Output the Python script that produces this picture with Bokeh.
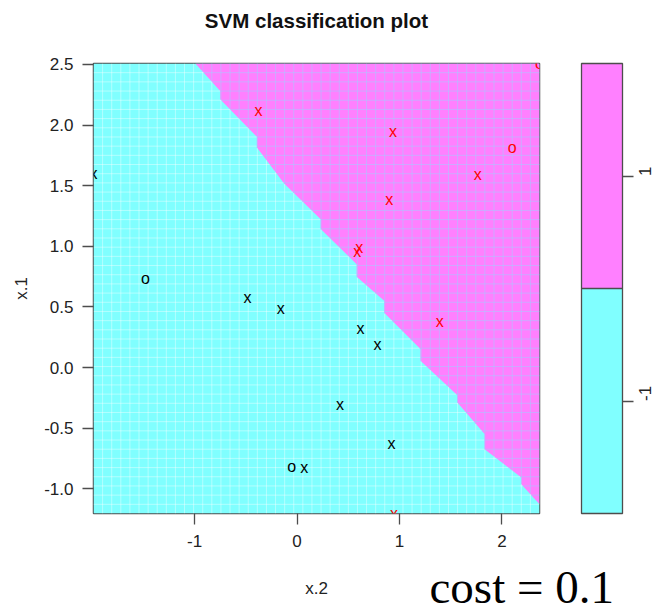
import numpy as np
from math import pi

from bokeh.plotting import figure
from bokeh.models import (Range1d, FixedTicker, PrintfTickFormatter, ColorBar,
                          LinearColorMapper, LinearAxis, Title, ColumnDataSource)
from bokeh.core.properties import value
from bokeh.embed import file_html
from bokeh.resources import INLINE

# class levels of the fitted SVM and their region colours (cm.colors(2))
class_levels = ["-1", "1"]
region_colors = ["#80FFFF", "#FF80FF"]
key_ticks = [1.5, 2.5]
key_split = [2.0]

# range of the two features (x.2 across, x.1 up)
x2_lim = (-1.987, 2.367)
x1_lim = (-1.204, 2.508)
x2_ticks = [-1, 0, 1, 2]
x1_ticks = [-1.0, -0.5, 0.0, 0.5, 1.0, 1.5, 2.0, 2.5]

# training observations
pt_x2 = [-1.987, -0.484, -0.159, 0.620, 0.786, 0.419, 0.922, 0.071, -1.479, -0.052,
         -0.377, 0.938, 1.765, 0.899, 0.607, 0.587, 1.392, 0.947, 2.100, 2.367]
pt_x1 = [1.597, 0.577, 0.486, 0.325, 0.187, -0.302, -0.627, -0.824, 0.734, -0.816,
         2.122, 1.943, 1.589, 1.388, 0.989, 0.954, 0.379, -1.204, 1.814, 2.508]
pt_class = [-1] * 10 + [1] * 10
pt_is_sv = [True] * 8 + [False] * 2 + [True] * 8 + [False] * 2

# decision boundary between the two predicted regions (x.2, x.1)
bnd_x2 = [-0.993, -0.750, -0.750, -0.392, -0.392, -0.126, 0.231, 0.231, 0.582, 0.582,
          0.851, 0.851, 1.205, 1.205, 1.565, 1.565, 1.831, 1.831, 2.189, 2.189, 2.367]
bnd_x1 = [2.508, 2.282, 2.214, 1.903, 1.815, 1.518, 1.224, 1.142, 0.853, 0.748,
          0.550, 0.451, 0.152, 0.055, -0.228, -0.289, -0.549, -0.673, -0.907, -0.962, -1.127]

FONT = "Liberation Sans"
AXIS_GRAY = "#4d4d4d"
TEXT = "#222222"

p = figure(width=659, height=607, output_backend="svg", toolbar_location=None,
           x_range=Range1d(*x2_lim), y_range=Range1d(*x1_lim), title=None,
           x_axis_type=None, y_axis_type=None,
           min_border_left=93, min_border_right=119, min_border_top=63, min_border_bottom=94)
p.extra_y_ranges = {"key": Range1d(1, 3)}
p.outline_line_color = AXIS_GRAY
p.outline_line_width = 1.5


def gap_axis(size, tick, **kw):
    """An invisible axis used only to reserve space in a side panel."""
    return LinearAxis(ticker=FixedTicker(ticks=[tick]), axis_line_color=None,
                      major_tick_out=size, major_tick_in=0, major_tick_line_color=None,
                      minor_tick_out=0, minor_tick_in=0, minor_tick_line_color=None,
                      major_label_standoff=0, major_label_text_font_size="0px",
                      major_label_text_alpha=0, **kw)


def style_axis(ax, label_standoff, title_standoff):
    ax.axis_line_color = None
    ax.major_tick_line_color = AXIS_GRAY
    ax.major_tick_line_width = 1.3
    ax.major_tick_out = 11
    ax.major_tick_in = 0
    ax.minor_tick_line_color = None
    ax.major_label_standoff = label_standoff
    ax.major_label_text_font = FONT
    ax.major_label_text_font_size = "17px"
    ax.major_label_text_color = TEXT
    ax.axis_label_standoff = title_standoff
    ax.axis_label_text_font = FONT
    ax.axis_label_text_font_size = "17px"
    ax.axis_label_text_font_style = "normal"
    ax.axis_label_text_color = TEXT


# axes
xaxis = LinearAxis(axis_label="x.2", ticker=FixedTicker(ticks=x2_ticks),
                   formatter=PrintfTickFormatter(format="%d"))
yaxis = LinearAxis(axis_label="x.1", ticker=FixedTicker(ticks=x1_ticks),
                   formatter=PrintfTickFormatter(format="%.1f"))
style_axis(xaxis, 10, 29)
style_axis(yaxis, 9, 10)
p.add_layout(xaxis, "below")
p.add_layout(yaxis, "left")

# title, lifted above the frame by an empty spacer
p.add_layout(gap_axis(32, 0), "above")
p.add_layout(Title(text="SVM classification plot", align="center", vertical_align="bottom",
                   standoff=0, text_font=FONT, text_font_size="20.5px",
                   text_font_style="bold", text_color="#111111"), "above")

# predicted regions: class -1 everywhere, class 1 above the boundary
x_lo, x_hi = x2_lim
y_lo, y_hi = x1_lim
p.quad(left=x_lo, right=x_hi, bottom=y_lo, top=y_hi,
       fill_color=region_colors[0], line_color=None)
p.patch(bnd_x2 + [x_hi], bnd_x1 + [y_hi], fill_color=region_colors[1], line_color=None)

# seams of the 50 x 50 prediction lattice
gx = np.linspace(x_lo, x_hi, 50)[1:-1]
gy = np.linspace(y_lo, y_hi, 50)[1:-1]
by = np.interp(gx, bnd_x2, bnd_x1)
bx = np.interp(gy, bnd_x1[::-1], bnd_x2[::-1])
p.segment(x0=gx, y0=y_lo, x1=gx, y1=by, line_color="white", line_alpha=0.4, line_width=1)
p.segment(x0=x_lo, y0=gy, x1=bx, y1=gy, line_color="white", line_alpha=0.4, line_width=1)
p.segment(x0=gx, y0=by, x1=gx, y1=y_hi, line_color="#a8c8ff", line_alpha=0.55, line_width=1)
p.segment(x0=bx, y0=gy, x1=x_hi, y1=gy, line_color="#a8c8ff", line_alpha=0.55, line_width=1)

# observations: "x" = support vector, "o" = other point; colour by class
src = ColumnDataSource(dict(
    x2=pt_x2, x1=pt_x1,
    sym=["x" if sv else "o" for sv in pt_is_sv],
    col=["black" if c == -1 else "red" for c in pt_class],
))
p.text(x="x2", y="x1", text="sym", source=src, text_color="col",
       text_font=value(FONT), text_font_size="16px",
       text_align="center", text_baseline="middle")

# class key to the right: gap, colour bar, then its tick labels
p.add_layout(gap_axis(42, 2.0, y_range_name="key"), "right")
mapper = LinearColorMapper(palette=region_colors, low=1, high=3)
key = ColorBar(color_mapper=mapper, orientation="vertical", width=41, height=450,
               ticker=FixedTicker(ticks=[], minor_ticks=key_split),
               padding=0, margin=0, label_standoff=0,
               bar_line_color=AXIS_GRAY, bar_line_width=1.3,
               major_tick_in=0, major_tick_out=0,
               minor_tick_in=41, minor_tick_out=0,
               minor_tick_line_color=AXIS_GRAY, minor_tick_line_width=1.3,
               border_line_color=None, background_fill_color=None)
p.add_layout(key, "right")
key_axis = LinearAxis(y_range_name="key", ticker=FixedTicker(ticks=key_ticks),
                      major_label_overrides=dict(zip(key_ticks, class_levels)),
                      major_label_orientation=pi / 2, major_label_standoff=11,
                      axis_line_color=None, major_tick_out=11, major_tick_in=0,
                      major_tick_line_color=AXIS_GRAY, major_tick_line_width=1.3,
                      minor_tick_line_color=None,
                      major_label_text_font=FONT, major_label_text_font_size="17px",
                      major_label_text_color=TEXT)
p.add_layout(key_axis, "right")

# annotation of the cost parameter, under the axis at the right
p.add_layout(Title(text="cost = 0.1", align="left", offset=336, vertical_align="top",
                   standoff=-79, text_font="Liberation Serif", text_font_size="47px",
                   text_font_style="normal", text_color="black"), "below")

open("out.html", "w").write(file_html(p, INLINE))
